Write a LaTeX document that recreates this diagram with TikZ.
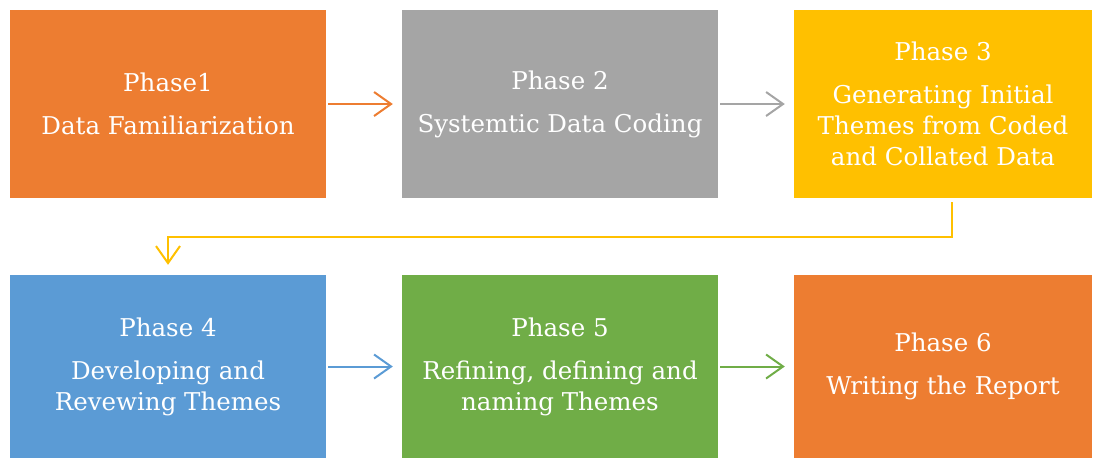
\documentclass[tikz,border=0pt]{standalone}
\usepackage{fontspec}
\setmainfont{DejaVu Serif}
\usetikzlibrary{arrows.meta}
\definecolor{cOrange}{HTML}{ED7D31}
\definecolor{cGray}{HTML}{A5A5A5}
\definecolor{cGold}{HTML}{FFC000}
\definecolor{cBlue}{HTML}{5B9BD5}
\definecolor{cGreen}{HTML}{70AD47}
\tikzset{
  x=1pt, y=1pt,
  phasebox/.style={rectangle, inner sep=0pt, text=white, align=center,
    font=\fontsize{24.5}{31}\selectfont},
  flow/.style={line width=2pt, -{Straight Barb[length=17pt,width=24pt,line width=2pt]}}
}
\begin{document}
\begin{tikzpicture}
\useasboundingbox (0,0) rectangle (1102,-459);
\node[phasebox, fill=cOrange, minimum width=316pt, minimum height=188pt] (p1) at (168,-104)
  {Phase1\\[12pt]Data Familiarization};
\node[phasebox, fill=cGray, minimum width=316pt, minimum height=188pt] (p2) at (560,-104)
  {Phase 2\\[12pt]Systemtic Data Coding};
\node[phasebox, fill=cGold, minimum width=298pt, minimum height=188pt] (p3) at (943,-104)
  {Phase 3\\[12pt]Generating Initial\\Themes from Coded\\and Collated Data};
\node[phasebox, fill=cBlue, minimum width=316pt, minimum height=183pt] (p4) at (168,-366.5)
  {Phase 4\\[12pt]Developing and\\Revewing Themes};
\node[phasebox, fill=cGreen, minimum width=316pt, minimum height=183pt] (p5) at (560,-366.5)
  {Phase 5\\[12pt]Refining, defining and\\naming Themes};
\node[phasebox, fill=cOrange, minimum width=298pt, minimum height=183pt] (p6) at (943,-366.5)
  {Phase 6\\[12pt]Writing the Report};
\draw[flow, cOrange] ([xshift=2pt]p1.east) -- ([xshift=-9pt]p2.west);
\draw[flow, cGray] ([xshift=2pt]p2.east) -- ([xshift=-9pt]p3.west);
\draw[flow, cBlue] ([xshift=2pt]p4.east) -- ([xshift=-9pt]p5.west);
\draw[flow, cGreen] ([xshift=2pt]p5.east) -- ([xshift=-9pt]p6.west);
\coordinate (c3) at ([xshift=9pt,yshift=-4pt]p3.south);
\coordinate (c4) at ([yshift=10pt]p4.north);
\draw[flow, cGold] (c3) -- ++(0,-35) -| (c4);
\end{tikzpicture}
\end{document}
